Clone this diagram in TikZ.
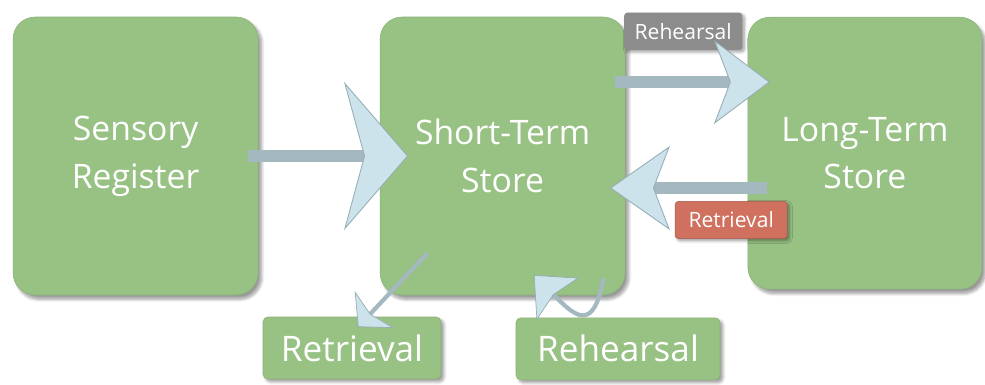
\documentclass[tikz,border=0pt]{standalone}
\usepackage{fontspec}
\setmainfont{Open Sans}
\usepackage{tikz}
\usetikzlibrary{positioning,arrows.meta,shadows.blur}
\usepackage{xcolor}

\definecolor{boxgreen}{RGB}{152,193,132}
\definecolor{boxedge}{RGB}{138,178,118}
\definecolor{shaftgray}{RGB}{164,184,192}
\definecolor{headblue}{RGB}{205,227,236}
\definecolor{headedge}{RGB}{150,172,180}
\definecolor{taggray}{RGB}{140,140,140}
\definecolor{tagred}{RGB}{208,112,95}

\begin{document}
\begin{tikzpicture}[
  store/.style={draw=boxedge, fill=boxgreen, rounded corners=0.55cm, outer sep=0pt,
    minimum width=6.125cm, minimum height=6.95cm, text=white, align=center,
    font=\fontsize{24}{34}\selectfont,
    blur shadow={shadow xshift=2.5pt, shadow yshift=-3pt, shadow blur steps=8}},
  process/.style={draw=boxedge, fill=boxgreen, rounded corners=0.12cm, outer sep=0pt,
    minimum height=1.55cm, text=white, font=\fontsize{25}{30}\selectfont,
    blur shadow={shadow xshift=2pt, shadow yshift=-2pt, shadow blur steps=6}},
  tag/.style={rounded corners=0.08cm, outer sep=0pt, minimum height=0.93cm,
    text=white, font=\fontsize{15}{18}\selectfont,
    blur shadow={shadow xshift=1.5pt, shadow yshift=-1.5pt, shadow blur steps=5}},
  bigarrow/.style={line width=8.5pt, draw=shaftgray},
  thinarrow/.style={line width=3pt, draw=shaftgray}
]
\useasboundingbox (0,0) rectangle (24.625,-9.6);

% memory stores
\node[store] (sensory) at (3.39,-3.9) {Sensory\\Register};
\node[store, right=3.05cm of sensory] (short) {Short-Term\\Store};
\node[store, right=3.07cm of short, minimum width=5.85cm, minimum height=6.8cm,
  yshift=0.07cm] (long) {Long-Term\\Store};

% control processes
\node[process, minimum width=4.45cm] (retr) at (8.8,-8.7) {Retrieval};
\node[process, minimum width=5.1cm] (reh) at (15.45,-8.72) {Rehearsal};

% transfer labels
\node[tag, fill=taggray, minimum width=2.95cm] (rehtag) at (17.08,-0.78) {Rehearsal};
\node[tag, fill=tagred, draw=tagred!80!black, minimum width=2.8cm] (retrtag) at (18.28,-5.5) {Retrieval};

% arrows
\draw[bigarrow, -{Stealth[length=1.6cm, width=3.7cm, inset=0.5cm, color=headedge, fill=headblue, line width=0.6pt]}]
  ([xshift=-0.25cm]sensory.east) -- ([xshift=0.7cm]short.west);
\draw[bigarrow, line width=8pt, -{Stealth[length=1.4cm, width=2.1cm, inset=0.4cm, color=headedge, fill=headblue, line width=0.6pt]}]
  ([xshift=-0.25cm, yshift=1.85cm]short.east) -- ([xshift=0.55cm, yshift=1.85cm]short.east -| long.west);
\draw[bigarrow, line width=8pt, -{Stealth[length=1.5cm, width=2.1cm, inset=0.4cm, color=headedge, fill=headblue, line width=0.6pt]}]
  ([xshift=0.48cm, yshift=-0.8cm]short.east -| long.west) -- ([xshift=-0.38cm, yshift=-0.8cm]short.east);
\draw[thinarrow, -{Stealth[length=0.6cm, width=1.35cm, inset=0.15cm, color=headedge, fill=headblue, line width=0.5pt]}]
  ([xshift=-1.88cm, yshift=1.05cm]short.south) -- ([xshift=0.15cm, yshift=-0.25cm]retr.north);
\draw[thinarrow, -{Stealth[length=0.85cm, width=1.5cm, inset=0.15cm, color=headedge, fill=headblue, line width=0.5pt]}]
  ([xshift=2.52cm, yshift=0.42cm]short.south) to[out=-100, in=-45, looseness=2.1]
  ([xshift=0.78cm, yshift=0.5cm]short.south);
\end{tikzpicture}
\end{document}
